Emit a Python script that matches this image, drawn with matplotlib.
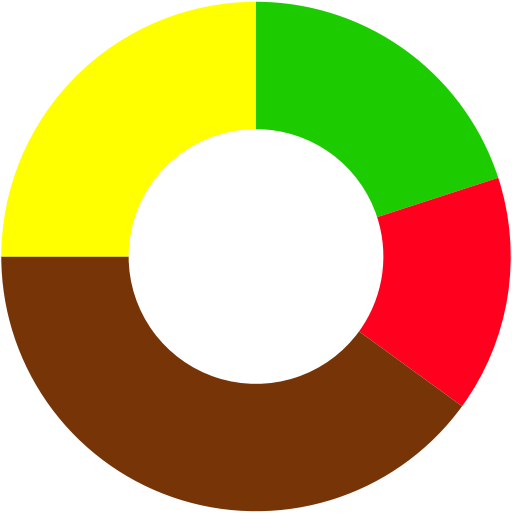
import matplotlib
matplotlib.use("Agg")
import matplotlib.pyplot as plt

labels = ["Green", "Red", "Brown", "Yellow"]
values = [20, 15, 40, 25]
colors = ["#1ccc00", "#ff001e", "#773407", "#ffff00"]

fig = plt.figure(figsize=(5.12, 5.13), dpi=100)
ax = fig.add_axes([0, 0, 1, 1])
ax.pie(values, colors=colors, startangle=90, counterclock=False,
       radius=1.0, wedgeprops=dict(width=0.5, linewidth=0))
ax.set_aspect("equal")
ax.set_xlim(-1.005, 1.005)
ax.set_ylim(-1.005, 1.005)
ax.axis("off")
fig.savefig("out.png", dpi=100)
